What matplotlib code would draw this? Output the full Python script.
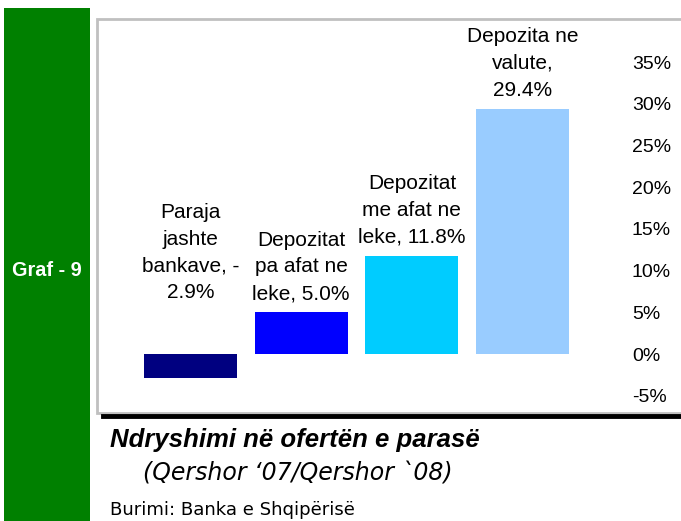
import matplotlib
matplotlib.use('Agg')
import matplotlib.pyplot as plt
from matplotlib.patches import Rectangle
from matplotlib.lines import Line2D
from matplotlib.ticker import FuncFormatter

# data
categories = ['Paraja\njashte\nbankave, -\n2.9%',
              'Depozitat\npa afat ne\nleke, 5.0%',
              'Depozitat\nme afat ne\nleke, 11.8%',
              'Depozita ne\nvalute,\n29.4%']
values = [-2.9, 5.0, 11.8, 29.4]
colors = ['#000080', '#0000FF', '#00CCFF', '#99CCFF']
yticks = [-5, 0, 5, 10, 15, 20, 25, 30, 35]

title = 'Ndryshimi në ofertën e parasë'
subtitle = '(Qershor \u201807/Qershor `08)'
source = 'Burimi: Banka e Shqipërisë'
tag = 'Graf - 9'

W, H = 681, 521
fig = plt.figure(figsize=(W / 100, H / 100), dpi=100)
fig.patch.set_facecolor('white')


def fx(px):
    return px / W


def fy(py):
    return 1 - py / H


# green side strip
fig.patches.append(Rectangle((fx(4), 0), fx(86), fy(8), transform=fig.transFigure,
                             facecolor='#008000', edgecolor='none', zorder=-2))
fig.text(fx(47), fy(270), tag, color='white', fontsize=14.3, fontweight='bold',
         family='Liberation Sans', ha='center', va='center')

# chart frame
fig.patches.append(Rectangle((fx(97), fy(413)), fx(600), fy(19) - fy(413),
                             transform=fig.transFigure, facecolor='white',
                             edgecolor='#c0c0c0', linewidth=2, zorder=-2))
fig.lines.append(Line2D([fx(103), 1], [fy(416), fy(416)], transform=fig.transFigure,
                        color='black', linewidth=3.5, zorder=-1))

ax = fig.add_axes([fx(100), fy(413), fx(500), fy(19) - fy(413)])
ax.set_zorder(1)
ax.patch.set_visible(False)
x = list(range(len(values)))
bars = ax.bar(x, values, width=0.84, color=colors, zorder=2)
ax.set_xlim(-0.8175, 3.699)
ax.set_ylim(-7.07, 40.17)
for s in ax.spines.values():
    s.set_visible(False)
ax.set_xticks([])
ax.yaxis.tick_right()
ax.set_yticks(yticks)
ax.yaxis.set_major_formatter(FuncFormatter(lambda v, p: f'{v:.0f}%'))
ax.tick_params(axis='y', length=0, pad=23, labelsize=14)
for lab in ax.get_yticklabels():
    lab.set_family('Liberation Sans')

for xi, v, lab in zip(x, values, categories):
    base = v if v > 0 else 0
    off = 9.5 if v > 0 else 40
    ax.annotate(lab, (xi, base), xytext=(0, off), textcoords='offset points',
                ha='center', va='baseline', fontsize=15, family='Liberation Sans',
                linespacing=1.52)

fig.text(fx(110), fy(440), title, fontsize=18.5, fontweight='bold', style='italic',
         family='Liberation Sans', ha='left', va='center')
fig.text(fx(143), fy(473), subtitle, fontsize=17, style='italic',
         family='DejaVu Sans', ha='left', va='center')
fig.text(fx(110), fy(510), source, fontsize=13.1, family='DejaVu Sans',
         ha='left', va='center')

fig.savefig('out.png', dpi=100)
